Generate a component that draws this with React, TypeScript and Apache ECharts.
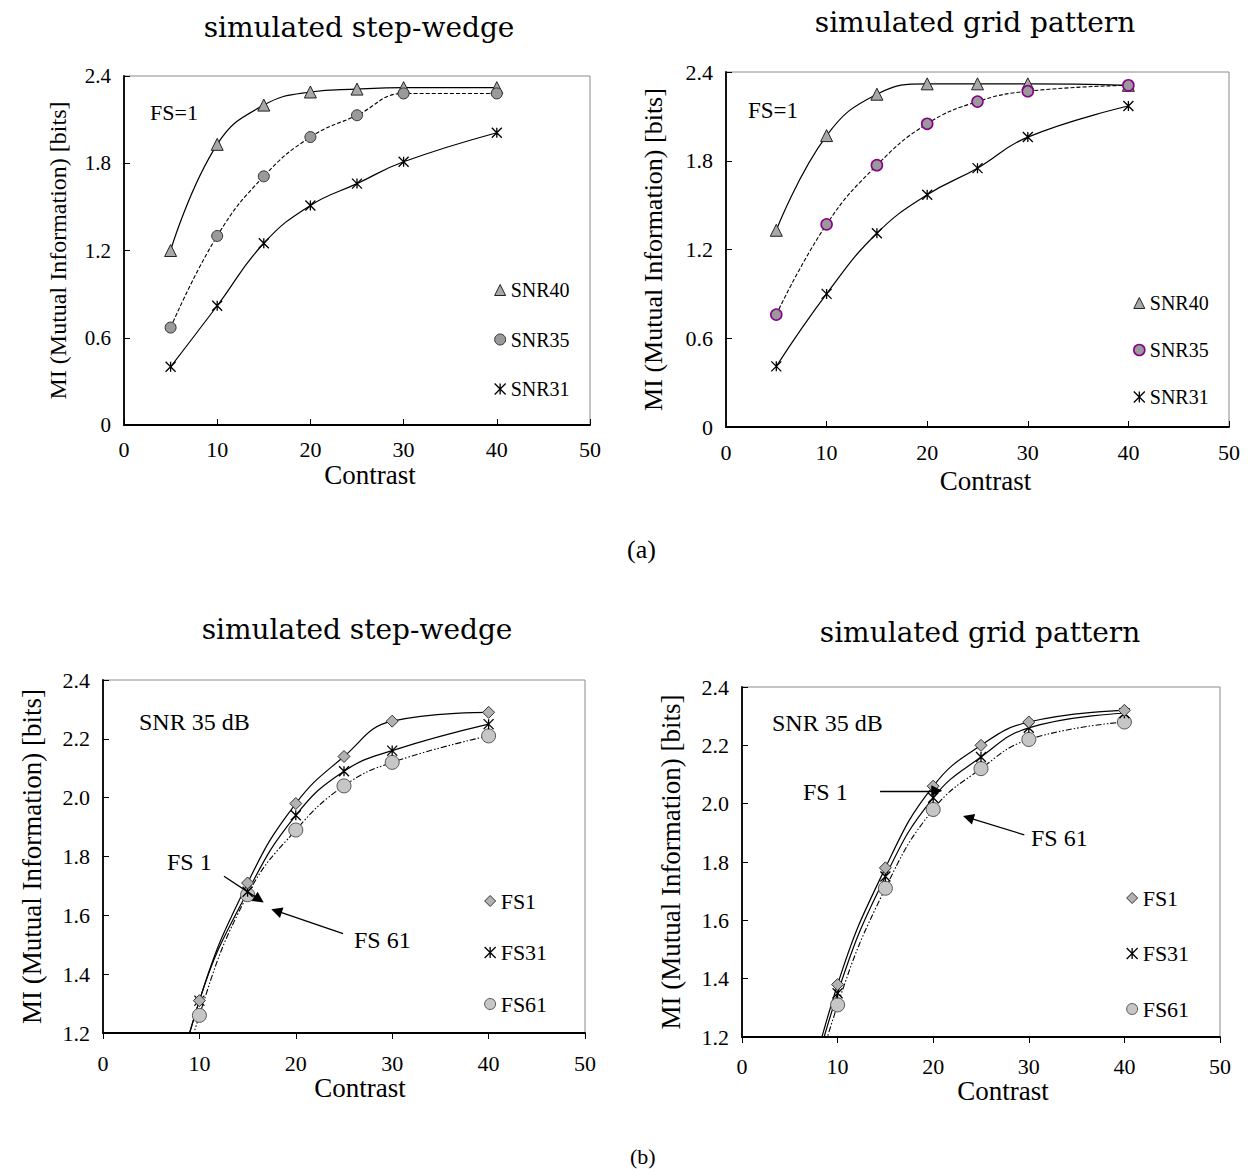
import React, { useEffect, useRef } from "react";
import * as echarts from "echarts";

// ---------- data ----------
const contrast = [5, 10, 15, 20, 25, 30, 40];
const xTicks = [0, 10, 20, 30, 40, 50];

// (a) FS = 1, varying SNR
const wedgeSnr40 = [1.2, 1.93, 2.2, 2.29, 2.31, 2.32, 2.32];
const wedgeSnr35 = [0.67, 1.3, 1.71, 1.98, 2.13, 2.28, 2.28];
const wedgeSnr31 = [0.4, 0.82, 1.25, 1.51, 1.66, 1.81, 2.01];

const gridSnr40 = [1.33, 1.97, 2.25, 2.32, 2.32, 2.32, 2.31];
const gridSnr35 = [0.76, 1.37, 1.77, 2.05, 2.2, 2.27, 2.31];
const gridSnr31 = [0.41, 0.9, 1.31, 1.57, 1.75, 1.96, 2.17];

// (b) SNR 35 dB, varying FS (values at contrast 5 fall below the axis)
const wedgeFs1 = [0.67, 1.31, 1.71, 1.98, 2.14, 2.26, 2.29];
const wedgeFs31 = [0.66, 1.31, 1.68, 1.94, 2.09, 2.16, 2.25];
const wedgeFs61 = [0.64, 1.26, 1.67, 1.89, 2.04, 2.12, 2.21];

const gridFs1 = [0.76, 1.38, 1.78, 2.06, 2.2, 2.28, 2.32];
const gridFs31 = [0.75, 1.35, 1.75, 2.02, 2.16, 2.26, 2.31];
const gridFs61 = [0.72, 1.31, 1.71, 1.98, 2.12, 2.22, 2.28];

const yTicksA = [0, 0.6, 1.2, 1.8, 2.4];
const yTicksB = [1.2, 1.4, 1.6, 1.8, 2.0, 2.2, 2.4];

// annotation arrows in data coordinates: [fromX, fromY, toX, toY]
const wedgeArrows = [
  [12.55, 1.733, 16.2, 1.654],
  [24.9, 1.538, 18.0, 1.615],
];
const gridArrows = [
  [14.44, 2.044, 20.37, 2.044],
  [29.53, 1.893, 23.67, 1.952],
];

// ---------- styles ----------
const SERIF = '"Liberation Serif", "Times New Roman", serif';
const TITLE_FONT = '"DejaVu Serif", "Liberation Serif", serif';
const STAR = "path://M0 0L10 10M10 0L0 10M5 0L5 10";

const pair = (ys: number[]) => contrast.map((x, i) => [x, ys[i]]);

export default function App() {
  const ref = useRef<HTMLDivElement>(null);

  useEffect(() => {
    document.body.style.margin = "0";
    const chart = echarts.init(ref.current!, undefined, { renderer: "svg" });

    const grids = [
      { left: 124, top: 76, width: 466, height: 349 },
      { left: 726, top: 72, width: 503, height: 355 },
      { left: 103, top: 680, width: 482, height: 353 },
      { left: 742, top: 687, width: 478, height: 350 },
    ];

    const xNameCfg = [
      { gap: 36, pad: 26, tickInside: true, margin: 13 },
      { gap: 40, pad: 16, tickInside: true, margin: 14 },
      { gap: 40, pad: 32, tickInside: false, margin: 19 },
      { gap: 37, pad: 44, tickInside: false, margin: 18 },
    ];
    const yNameCfg = [
      { gap: 54, size: 24, label: 21 },
      { gap: 60, size: 26, label: 22 },
      { gap: 58, size: 27, label: 22 },
      { gap: 58, size: 27, label: 22 },
    ];

    const xAxis = grids.map((_, i) => ({
      type: "value",
      gridIndex: i,
      min: xTicks[0],
      max: xTicks[xTicks.length - 1],
      interval: 10,
      axisLine: { show: true, lineStyle: { color: "#000", width: 1.8 } },
      axisTick: {
        show: true,
        inside: xNameCfg[i].tickInside,
        length: 6,
        lineStyle: { color: "#000", width: 1 },
      },
      axisLabel: {
        fontFamily: SERIF,
        fontSize: 22,
        color: "#000",
        margin: xNameCfg[i].margin,
      },
      splitLine: { show: false },
      name: "Contrast",
      nameLocation: "middle",
      nameGap: xNameCfg[i].gap,
      nameTextStyle: {
        fontFamily: SERIF,
        fontSize: 27,
        color: "#000",
        padding: [0, 0, 0, xNameCfg[i].pad],
      },
    }));

    const yAxis = grids.map((_, i) => {
      const ticks = i < 2 ? yTicksA : yTicksB;
      return {
        type: "value",
        gridIndex: i,
        min: ticks[0],
        max: ticks[ticks.length - 1],
        interval: i < 2 ? 0.6 : 0.2,
        axisLine: { show: true, lineStyle: { color: "#000", width: 1.8 } },
        axisTick: { show: true, inside: true, length: 6, lineStyle: { color: "#000", width: 1 } },
        axisLabel: {
          fontFamily: SERIF,
          fontSize: yNameCfg[i].label,
          color: "#000",
          margin: 13,
          formatter: (v: number) => (Math.abs(v) < 1e-9 ? "0" : v.toFixed(1)),
        },
        splitLine: { show: false },
        name: "MI (Mutual Information) [bits]",
        nameLocation: "middle",
        nameRotate: 90,
        nameGap: yNameCfg[i].gap,
        nameTextStyle: { fontFamily: SERIF, fontSize: yNameCfg[i].size, color: "#000" },
      };
    });

    const triStyle = { color: "#a8a8a8", borderColor: "#222", borderWidth: 1 };
    const circStyleA = { color: "#9a9a9a", borderColor: "#333", borderWidth: 1 };
    const circStyleP = { color: "#9a9a9a", borderColor: "#8b008b", borderWidth: 1.6 };
    const starStyle = { color: "#000", borderColor: "#000", borderWidth: 1.3 };
    const diaStyle = { color: "#b2b2b2", borderColor: "#333", borderWidth: 1 };
    const circStyleB = { color: "#c6c6c6", borderColor: "#555", borderWidth: 1 };

    const solid = { color: "#000", width: 1.2, type: "solid" };
    const dashed = { color: "#000", width: 1.1, type: [4, 2] };
    const dashDot = { color: "#000", width: 1.1, type: [6, 2, 1.5, 2, 1.5, 2] };

    const mk = (
      name: string,
      idx: number,
      ys: number[],
      symbol: string,
      size: number,
      itemStyle: any,
      lineStyle: any,
      extra: any = {}
    ) => ({
      type: "line",
      name,
      xAxisIndex: idx,
      yAxisIndex: idx,
      data: pair(ys),
      smooth: 0.45,
      clip: true,
      symbol,
      symbolSize: size,
      showSymbol: true,
      itemStyle,
      lineStyle,
      emphasis: { disabled: true },
      ...extra,
    });

    const arrowMark = (arrows: number[][]) => ({
      markLine: {
        silent: true,
        symbol: ["none", "triangle"],
        symbolSize: 11,
        lineStyle: { color: "#000", width: 1.3, type: "solid" },
        itemStyle: { color: "#000" },
        label: { show: false },
        emphasis: { disabled: true },
        data: arrows.map((a) => [{ coord: [a[0], a[1]] }, { coord: [a[2], a[3]] }]),
      },
    });

    const series = [
      mk("SNR40", 0, wedgeSnr40, "triangle", 12, triStyle, solid),
      mk("SNR35", 0, wedgeSnr35, "circle", 11, circStyleA, dashed),
      mk("SNR31", 0, wedgeSnr31, STAR, 10, starStyle, solid),
      mk("SNR40", 1, gridSnr40, "triangle", 12, triStyle, solid),
      mk("SNR35", 1, gridSnr35, "circle", 11, circStyleP, dashed),
      mk("SNR31", 1, gridSnr31, STAR, 10, starStyle, solid),
      mk("FS61", 2, wedgeFs61, "circle", 14, circStyleB, dashDot),
      mk("FS31", 2, wedgeFs31, STAR, 10, starStyle, solid),
      mk("FS1", 2, wedgeFs1, "diamond", 12, diaStyle, solid, arrowMark(wedgeArrows)),
      mk("FS61", 3, gridFs61, "circle", 14, circStyleB, dashDot),
      mk("FS31", 3, gridFs31, STAR, 10, starStyle, solid),
      mk("FS1", 3, gridFs1, "diamond", 12, diaStyle, solid, arrowMark(gridArrows)),
    ];

    const legendBase = (left: number, top: number, gap: number, size: number, data: any[]) => ({
      orient: "vertical",
      left,
      top,
      itemWidth: 11,
      itemHeight: 11,
      itemGap: gap,
      selectedMode: false,
      padding: 0,
      textStyle: { fontFamily: SERIF, fontSize: size, color: "#000", lineHeight: 22 },
      data,
    });

    const legend = [
      legendBase(494, 279, 27.5, 20, [
        { name: "SNR40", icon: "triangle", itemStyle: triStyle },
        { name: "SNR35", icon: "circle", itemStyle: circStyleA },
        { name: "SNR31", icon: STAR, itemStyle: starStyle },
      ]),
      legendBase(1133, 292, 25, 20, [
        { name: "SNR40", icon: "triangle", itemStyle: triStyle },
        { name: "SNR35", icon: "circle", itemStyle: circStyleP },
        { name: "SNR31", icon: STAR, itemStyle: starStyle },
      ]),
      legendBase(484, 890, 29.5, 22, [
        { name: "FS1", icon: "diamond", itemStyle: diaStyle },
        { name: "FS31", icon: STAR, itemStyle: starStyle },
        { name: "FS61", icon: "circle", itemStyle: circStyleB },
      ]),
      legendBase(1126, 887, 33.5, 22, [
        { name: "FS1", icon: "diamond", itemStyle: diaStyle },
        { name: "FS31", icon: STAR, itemStyle: starStyle },
        { name: "FS61", icon: "circle", itemStyle: circStyleB },
      ]),
    ];

    const titleAt = (text: string, cx: number, top: number) => ({
      text,
      left: cx,
      top,
      textAlign: "center",
      padding: 0,
      textStyle: { fontFamily: TITLE_FONT, fontSize: 28, fontWeight: "normal", color: "#000" },
    });

    const txt = (text: string, x: number, y: number, size: number, family = SERIF) => ({
      type: "text",
      x,
      y,
      silent: true,
      style: {
        text,
        fill: "#000",
        font: `${size}px ${family}`,
        align: "left",
        verticalAlign: "middle",
        textAlign: "left",
        textVerticalAlign: "middle",
      },
    });

    chart.setOption({
      animation: false,
      backgroundColor: "#fff",
      title: [
        titleAt("simulated step-wedge", 359, 13),
        titleAt("simulated grid pattern", 975, 8),
        titleAt("simulated step-wedge", 357, 615),
        titleAt("simulated grid pattern", 980, 618),
      ],
      grid: grids.map((g) => ({
        ...g,
        show: true,
        borderColor: "#8a8a8a",
        borderWidth: 1,
        backgroundColor: "transparent",
        containLabel: false,
      })),
      xAxis,
      yAxis,
      legend,
      series,
      graphic: [
        txt("FS=1", 150, 112, 22),
        txt("FS=1", 748, 110, 23),
        txt("SNR 35 dB", 139, 722, 24),
        txt("SNR 35 dB", 772, 723, 24),
        txt("FS 1", 167, 862, 24),
        txt("FS 61", 354, 940, 24),
        txt("FS 1", 803, 792, 24),
        txt("FS 61", 1031, 838, 24),
        txt("(a)", 627, 549, 26),
        txt("(b)", 630, 1156, 22),
      ],
    });

    return () => chart.dispose();
  }, []);

  return <div ref={ref} style={{ width: 1254, height: 1169 }} />;
}
